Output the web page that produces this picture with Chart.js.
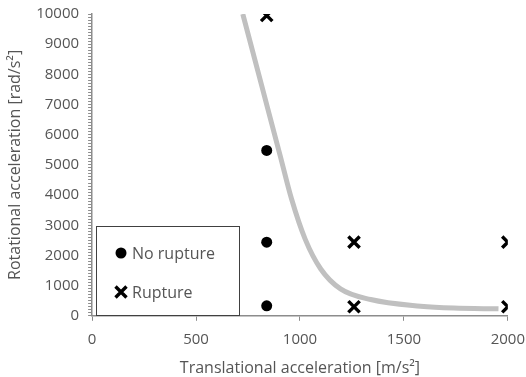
<!DOCTYPE html>
<html>
<head>
<meta charset="utf-8">
<script src="https://cdn.jsdelivr.net/npm/chart.js@4.4.0/dist/chart.umd.min.js"></script>
<style>
  html, body { margin: 0; padding: 0; background: #fff; overflow: hidden; }
  #wrap { width: 535px; height: 384px; margin-top: -4px; }
</style>
</head>
<body>
<div id="wrap"><canvas id="accel-graph"></canvas></div>
<script>
// measured test points
const noRuptureX = [840, 840, 840];
const noRuptureY = [5480, 2440, 330];
const ruptureX = [840, 1260, 1260, 2000, 2000];
const ruptureY = [9950, 2440, 300, 2440, 300];

// threshold curve read along its length
const curveX = [725, 815, 905, 960, 1025, 1100, 1195, 1340, 1580, 1740, 1955];
const curveY = [10000, 7650, 5300, 3860, 2540, 1550, 890, 540, 320, 255, 230];

const xTicks = [0, 500, 1000, 1500, 2000];
const yMax = 10000;

const textColor = "#555555";
const axisColor = "#8c8c8c";
const fontName = "'Open Sans', sans-serif";

function toPoints(xs, ys) {
    return xs.map((x, i) => ({ x: x, y: ys[i] }));
}

// draws the boxed legend in the lower left of the plot
const boxLegend = {
    id: 'boxLegend',
    afterDraw(chart) {
        const ctx = chart.ctx;
        const xs = chart.scales.x;
        const ys = chart.scales.y;
        const left = Math.round(xs.getPixelForValue(20));
        const right = Math.round(xs.getPixelForValue(705));
        const top = Math.round(ys.getPixelForValue(2970));
        const bottom = Math.round(ys.getPixelForValue(30));
        ctx.save();
        ctx.fillStyle = "#fff";
        ctx.fillRect(left, top, right - left, bottom - top);
        ctx.strokeStyle = "#404040";
        ctx.lineWidth = 1;
        ctx.strokeRect(left + 0.5, top + 0.5, right - left, bottom - top);

        const items = chart.data.datasets.filter(d => d.inLegend);
        ctx.font = "16px " + fontName;
        ctx.textBaseline = "middle";
        items.forEach((d, i) => {
            const cy = top + 27 + i * 39;
            const cx = left + 25;
            if (d.pointStyle === 'circle') {
                ctx.fillStyle = "#000";
                ctx.beginPath();
                ctx.arc(cx, cy, 5.5, 0, Math.PI * 2);
                ctx.fill();
            } else {
                ctx.strokeStyle = "#000";
                ctx.lineWidth = 3.4;
                ctx.beginPath();
                ctx.moveTo(cx - 5.5, cy - 5.5); ctx.lineTo(cx + 5.5, cy + 5.5);
                ctx.moveTo(cx + 5.5, cy - 5.5); ctx.lineTo(cx - 5.5, cy + 5.5);
                ctx.stroke();
            }
            ctx.fillStyle = textColor;
            ctx.fillText(d.label, cx + 11, cy + 1);
        });
        ctx.restore();
    }
};

const ctx = document.getElementById('accel-graph').getContext('2d');

const chart = new Chart(ctx, {
    type: 'scatter',
    data: {
        datasets: [
            {
                label: "threshold",
                data: toPoints(curveX, curveY),
                showLine: true,
                borderColor: "#c0c0c0",
                borderWidth: 5,
                pointRadius: 0,
                cubicInterpolationMode: 'monotone',
                order: 3
            },
            {
                label: "No rupture",
                inLegend: true,
                data: toPoints(noRuptureX, noRuptureY),
                pointStyle: 'circle',
                pointRadius: 5.5,
                backgroundColor: "#000",
                borderColor: "#000",
                borderWidth: 0,
                order: 1
            },
            {
                label: "Rupture",
                inLegend: true,
                data: toPoints(ruptureX, ruptureY),
                pointStyle: 'crossRot',
                pointRadius: 8,
                borderColor: "#000",
                borderWidth: 3.4,
                order: 2
            }
        ]
    },
    options: {
        responsive: true,
        maintainAspectRatio: false,
        animation: false,
        layout: {
            padding: { top: 0, right: 0, bottom: 0, left: 6 }
        },
        plugins: {
            legend: { display: false },
            tooltip: { enabled: false }
        },
        scales: {
            x: {
                type: 'linear',
                min: 0,
                max: 2000,
                afterBuildTicks: axis => {
                    axis.ticks = xTicks.map(v => ({ value: v }));
                },
                border: { color: axisColor, width: 1.5 },
                grid: {
                    display: true,
                    drawOnChartArea: false,
                    tickLength: 5,
                    color: axisColor
                },
                ticks: {
                    color: textColor,
                    font: { family: fontName, size: 15 },
                    padding: 10,
                    callback: v => String(v)
                },
                title: {
                    display: true,
                    text: "Translational acceleration [m/s²]",
                    color: textColor,
                    font: { family: fontName, size: 16 },
                    padding: { top: 0, bottom: 2 }
                }
            },
            y: {
                type: 'linear',
                min: 0,
                max: yMax,
                border: { color: axisColor, width: 1.5 },
                grid: {
                    display: true,
                    drawOnChartArea: false,
                    tickLength: 4,
                    color: axisColor
                },
                ticks: {
                    stepSize: 100,
                    autoSkip: false,
                    color: textColor,
                    font: { family: fontName, size: 15 },
                    padding: 9,
                    callback: v => (v % 1000 === 0 ? String(v) : '')
                },
                title: {
                    display: true,
                    text: "Rotational acceleration [rad/s²]",
                    color: textColor,
                    font: { family: fontName, size: 16 },
                    padding: { top: 0, bottom: 2 }
                }
            }
        }
    },
    plugins: [boxLegend]
});
</script>
</body>
</html>
